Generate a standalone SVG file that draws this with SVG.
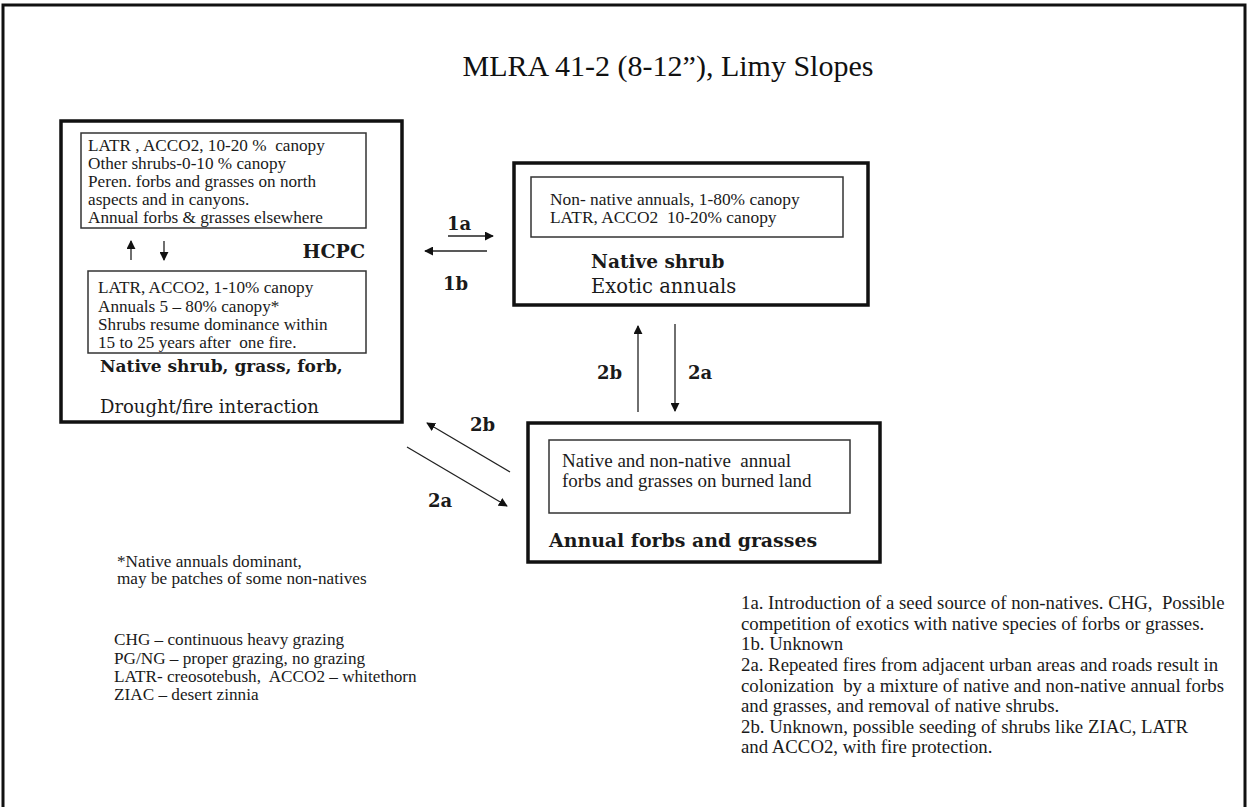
<svg xmlns="http://www.w3.org/2000/svg" width="1247" height="807" viewBox="0 0 1247 807">
<defs>
<marker id="ah" viewBox="0 0 10 10" refX="9" refY="5" markerWidth="9" markerHeight="9" markerUnits="userSpaceOnUse" orient="auto"><path d="M0,0 L10,5 L0,10 z" fill="#111"/></marker>
</defs>
<style>
.s{font-family:"Liberation Serif","Times New Roman",serif;fill:#1a1a1a}
.f{font-family:"DejaVu Serif","Liberation Serif",serif;fill:#1a1a1a}
.b{font-weight:bold}
.outer{fill:#fff;stroke:#111;stroke-width:3.5}
.inner{fill:#fff;stroke:#333;stroke-width:1.5}
.c{stroke:#222;stroke-width:1.3;fill:none;marker-end:url(#ah)}
.lbl{font-family:"DejaVu Serif","Liberation Serif",serif;font-weight:bold;font-size:18px;fill:#1a1a1a}
</style>
<rect x="0" y="0" width="1247" height="807" fill="#fff"/>
<path d="M3,812 L3,5 L1245,5 L1245,812" fill="none" stroke="#111" stroke-width="3"/>
<text x="668" y="76" text-anchor="middle" font-family="Liberation Serif, serif" font-size="30" fill="#111">MLRA 41-2 (8-12”), Limy Slopes</text>

<g id="hcpc">
<rect class="outer" x="61" y="121" width="341" height="301"/>
<rect class="inner" x="81" y="133" width="285" height="95"/>
<text class="s" font-size="17.2" xml:space="preserve"><tspan x="88" y="151">LATR , ACCO2, 10-20 %  canopy</tspan><tspan x="88" y="169">Other shrubs-0-10 % canopy</tspan><tspan x="88" y="187">Peren. forbs and grasses on north</tspan><tspan x="88" y="205">aspects and in canyons.</tspan><tspan x="88" y="223">Annual forbs &amp; grasses elsewhere</tspan></text>
<text class="f b" x="365" y="258" font-size="19" text-anchor="end">HCPC</text>
<rect class="inner" x="88" y="271" width="278" height="82"/>
<text class="s" font-size="17.2" xml:space="preserve"><tspan x="98" y="293">LATR, ACCO2, 1-10% canopy</tspan><tspan x="98" y="312">Annuals 5 – 80% canopy*</tspan><tspan x="98" y="330">Shrubs resume dominance within</tspan><tspan x="98" y="348">15 to 25 years after  one fire.</tspan></text>
<text class="f b" x="100" y="372" font-size="17">Native shrub, grass, forb,</text>
<text class="f" x="100" y="413" font-size="18">Drought/fire interaction</text>
</g>

<g id="native-shrub">
<rect class="outer" x="514" y="163" width="354" height="142"/>
<rect class="inner" x="531" y="177" width="312" height="60"/>
<text class="s" font-size="17.4" xml:space="preserve"><tspan x="550" y="205">Non- native annuals, 1-80% canopy</tspan><tspan x="550" y="223">LATR, ACCO2  10-20% canopy</tspan></text>
<text class="f b" x="591" y="268" font-size="18.5">Native shrub</text>
<text class="f" x="591" y="293" font-size="19.5">Exotic annuals</text>
</g>

<g id="annual">
<rect class="outer" x="528" y="423" width="352" height="139"/>
<rect class="inner" x="549" y="440" width="301" height="73"/>
<text class="s" font-size="19" xml:space="preserve"><tspan x="562" y="467">Native and non-native  annual</tspan><tspan x="562" y="487">forbs and grasses on burned land</tspan></text>
<text class="f b" x="549" y="547" font-size="18.9">Annual forbs and grasses</text>
</g>

<g id="connectors">
<line class="c" x1="131" y1="260" x2="131" y2="241"/>
<line class="c" x1="164" y1="241" x2="164" y2="260"/>
<line class="c" x1="448" y1="236" x2="493" y2="236"/>
<line class="c" x1="487" y1="251" x2="425" y2="251"/>
<line class="c" x1="638" y1="412" x2="638" y2="326"/>
<line class="c" x1="675" y1="324" x2="675" y2="411"/>
<line class="c" x1="510" y1="472" x2="427" y2="423"/>
<line class="c" x1="407" y1="447" x2="507" y2="506"/>
<text class="lbl" x="447" y="230">1a</text>
<text class="lbl" x="443" y="290">1b</text>
<text class="lbl" x="597" y="379">2b</text>
<text class="lbl" x="688" y="379">2a</text>
<text class="lbl" x="470" y="431">2b</text>
<text class="lbl" x="428" y="507">2a</text>
</g>

<g id="legend">
<text class="s" font-size="17.2"><tspan x="117" y="567">*Native annuals dominant,</tspan><tspan x="117" y="584">may be patches of some non-natives</tspan></text>
<text class="s" font-size="17.2" xml:space="preserve"><tspan x="114" y="645">CHG – continuous heavy grazing</tspan><tspan x="114" y="664">PG/NG – proper grazing, no grazing</tspan><tspan x="114" y="682">LATR- creosotebush,  ACCO2 – whitethorn</tspan><tspan x="114" y="700">ZIAC – desert zinnia</tspan></text>
</g>

<g id="notes">
<text class="s" font-size="18.8" xml:space="preserve"><tspan x="741" y="609">1a. Introduction of a seed source of non-natives. CHG,  Possible</tspan><tspan x="741" y="630">competition of exotics with native species of forbs or grasses.</tspan><tspan x="741" y="650">1b. Unknown</tspan><tspan x="741" y="671">2a. Repeated fires from adjacent urban areas and roads result in</tspan><tspan x="741" y="692">colonization  by a mixture of native and non-native annual forbs</tspan><tspan x="741" y="712">and grasses, and removal of native shrubs.</tspan><tspan x="741" y="733">2b. Unknown, possible seeding of shrubs like ZIAC, LATR</tspan><tspan x="741" y="753">and ACCO2, with fire protection.</tspan></text>
</g>
</svg>
